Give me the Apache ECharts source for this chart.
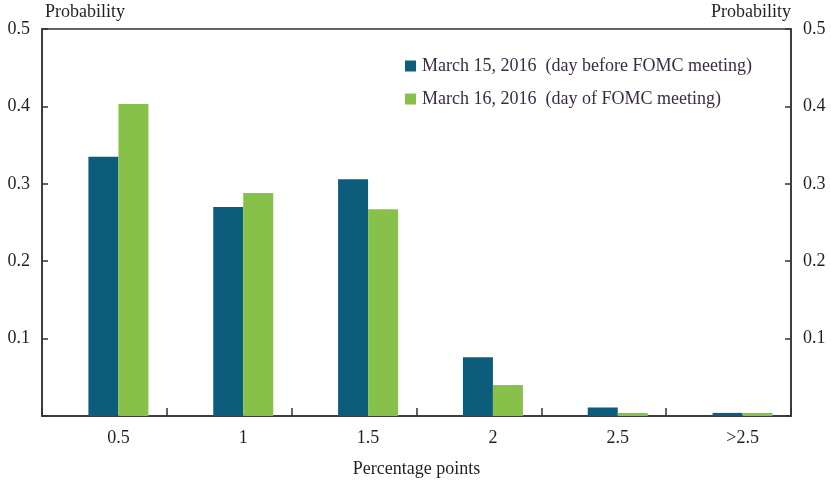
<!DOCTYPE html>
<html>
<head>
<meta charset="utf-8">
<script src="https://cdn.jsdelivr.net/npm/echarts@6/dist/echarts.min.js"></script>
<style>html,body{margin:0;padding:0;background:#fff}#c{width:831px;height:484px}</style>
</head>
<body>
<div id="c"></div>
<script>
const categories = ['0.5', '1', '1.5', '2', '2.5', '>2.5'];
const march15 = [0.335, 0.270, 0.306, 0.076, 0.011, 0.004];
const march16 = [0.403, 0.288, 0.267, 0.040, 0.004, 0.004];
const seriesNames = ['March 15, 2016  (day before FOMC meeting)', 'March 16, 2016  (day of FOMC meeting)'];

const FONT = '"Liberation Serif", "DejaVu Serif", serif';
const FS = 18;
const LINE = '#333';
const chart = echarts.init(document.getElementById('c'));
const yCommon = {
  type: 'value', min: 0, max: 0.5, interval: 0.1,
  splitLine: { show: false },
  axisLine: { show: true, lineStyle: { color: LINE, width: 1.5 } },
  axisTick: { show: true, inside: true, length: 6, lineStyle: { color: LINE, width: 1.5 } },
  axisLabel: { margin: 12, color: '#231f20', fontFamily: FONT, fontSize: FS,
    formatter: v => v === 0 ? '' : String(Math.round(v * 10) / 10) },
  nameTextStyle: { color: '#231f20', fontFamily: FONT, fontSize: FS },
  nameGap: 8
};
chart.setOption({
  animation: false,
  textStyle: { fontFamily: FONT },
  grid: [
    { left: 42, right: 40, top: 29, bottom: 68, show: true, borderColor: LINE, borderWidth: 1.5,
      containLabel: false, outerBoundsMode: 'none' },
    { left: 56, right: 26, top: 29, bottom: 68, containLabel: false, outerBoundsMode: 'none' }
  ],
  legend: {
    orient: 'vertical', left: 400, top: 52, itemWidth: 11, itemHeight: 11, itemGap: 15,
    icon: 'rect',
    textStyle: { color: '#3b2a48', fontFamily: FONT, fontSize: FS, padding: [0, 0, 0, 1] },
    data: seriesNames
  },
  xAxis: [
    { type: 'category', gridIndex: 0, data: categories, boundaryGap: true,
      axisLine: { show: true, lineStyle: { color: LINE, width: 1.5 } },
      axisTick: { show: true, inside: true, length: 8, lineStyle: { color: LINE, width: 1.5 } },
      axisLabel: { show: false },
      name: 'Percentage points', nameLocation: 'middle', nameGap: 44,
      nameTextStyle: { color: '#231f20', fontFamily: FONT, fontSize: FS } },
    { type: 'category', gridIndex: 1, data: categories,
      axisLine: { show: false }, axisTick: { show: false },
      axisLabel: { margin: 13, color: '#231f20', fontFamily: FONT, fontSize: FS } }
  ],
  yAxis: [
    Object.assign({}, yCommon, { gridIndex: 0, position: 'left', name: 'Probability',
      nameTextStyle: Object.assign({}, yCommon.nameTextStyle, { align: 'left', padding: [0, 0, 0, 3] }) }),
    Object.assign({}, yCommon, { gridIndex: 0, position: 'right', name: 'Probability',
      nameTextStyle: Object.assign({}, yCommon.nameTextStyle, { align: 'right' }) }),
    { type: 'value', gridIndex: 1, min: 0, max: 0.5, interval: 0.1, show: false }
  ],
  series: [
    { name: seriesNames[0], type: 'bar', xAxisIndex: 1, yAxisIndex: 2, data: march15,
      barWidth: 30, barGap: '0%', itemStyle: { color: '#0c5c7b' } },
    { name: seriesNames[1], type: 'bar', xAxisIndex: 1, yAxisIndex: 2, data: march16,
      barWidth: 30, barGap: '0%', itemStyle: { color: '#88c149' } }
  ]
});
</script>
</body>
</html>
